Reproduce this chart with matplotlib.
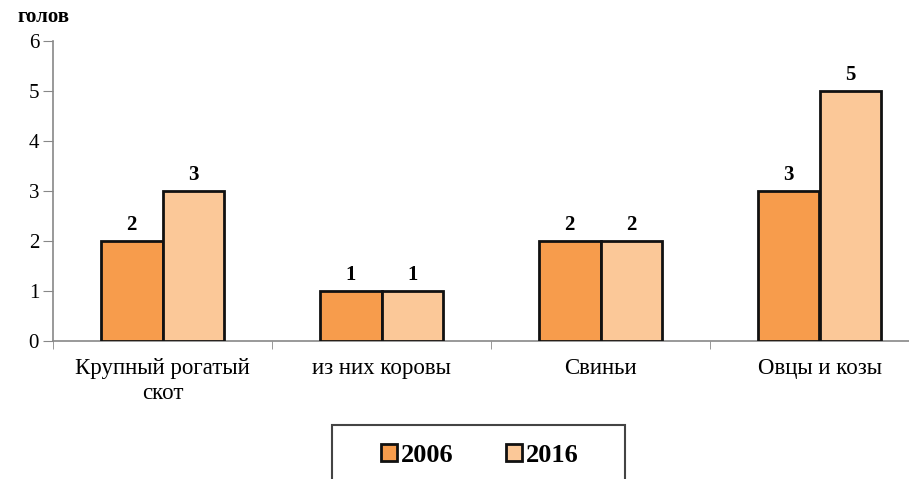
import matplotlib.pyplot as plt
import numpy as np
from matplotlib.patches import Rectangle

categories = ['Крупный рогатый\nскот', 'из них коровы', 'Свиньи', 'Овцы и козы']
years = ['2006', '2016']
values_2006 = [2, 1, 2, 3]
values_2016 = [3, 1, 2, 5]
yticks = [0, 1, 2, 3, 4, 5, 6]

color_2006 = '#F79C4C'
color_2016 = '#FBC898'

plt.rcParams['font.family'] = ['Liberation Serif', 'DejaVu Serif']

fig = plt.figure(figsize=(9.09, 4.79), dpi=100)
W, H = 909, 479
# axes spans beyond the right edge, as in the cropped original
ax = fig.add_axes([53 / W, (H - 341) / H, 876 / W, 300 / H])

x = np.arange(len(categories))
bw = 0.283
b1 = ax.bar(x - bw / 2, values_2006, bw, color=color_2006,
            edgecolor='#111111', linewidth=2, label=years[0], zorder=3)
b2 = ax.bar(x + bw / 2, values_2016, bw, color=color_2016,
            edgecolor='#111111', linewidth=2, label=years[1], zorder=3)

for bars in (b1, b2):
    for rect in bars:
        h = rect.get_height()
        ax.text(rect.get_x() + rect.get_width() / 2, h + 0.12, '%d' % h,
                ha='center', va='bottom', fontsize=15, fontweight='bold')

ax.set_xlim(-0.5, len(categories) - 0.5)
ax.set_ylim(0, 6)
ax.set_yticks(yticks)
ax.tick_params(axis='y', labelsize=15, length=7, color='#888888', pad=3)

ax.set_xticks(x)
ax.set_xticklabels(categories, fontsize=16.5, linespacing=1.3)
ax.set_xticks(np.arange(len(categories) + 1) - 0.5, minor=True)
ax.tick_params(axis='x', which='major', length=0, pad=12)
ax.tick_params(axis='x', which='minor', length=6, color='#888888')

for s in ('top', 'right'):
    ax.spines[s].set_visible(False)
for s in ('left', 'bottom'):
    ax.spines[s].set_color('#888888')
    ax.spines[s].set_linewidth(1.2)

fig.text(17 / W, (H - 17) / H, 'голов', fontsize=15, fontweight='bold',
         ha='left', va='center')

# legend box, cut by the bottom edge
fig.patches.append(Rectangle((332 / W, -0.05), 293 / W, 0.05 + (H - 425) / H,
                             transform=fig.transFigure, fill=False,
                             edgecolor='#444444', linewidth=1.5))
leg = fig.legend(handles=[b1, b2], labels=years, loc='center',
                 bbox_to_anchor=(480 / W, (H - 455) / H), ncol=2,
                 frameon=False, handlelength=0.6, handleheight=0.6,
                 handletextpad=0.15, columnspacing=2.0,
                 prop={'size': 19, 'weight': 'bold'})

fig.savefig('out.png', dpi=100)
